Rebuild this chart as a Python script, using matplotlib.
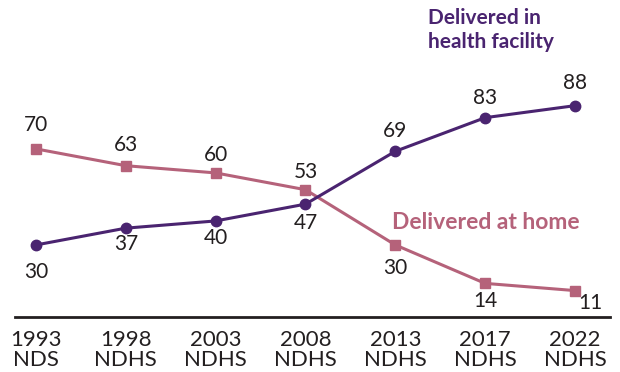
import matplotlib
matplotlib.use("Agg")
import matplotlib.pyplot as plt

plt.rcParams["font.family"] = ["Lato", "DejaVu Sans"]

# Place of delivery over survey rounds (percent)
SURVEYS    = ["1993\nNDS", "1998\nNDHS", "2003\nNDHS", "2008\nNDHS",
              "2013\nNDHS", "2017\nNDHS", "2022\nNDHS"]
FACILITY   = [30, 37, 40, 47, 69, 83, 88]
HOME       = [70, 63, 60, 53, 30, 14, 11]

PURPLE = "#4a2470"
PINK   = "#b5627a"
TEXT   = "#231f20"

# label offsets in pixels (negative dy = below the marker)
FAC_OFFSETS  = [(0, -27), (0, -16), (0, -17), (0, -19), (0, 20), (0, 20), (0, 23)]
HOME_OFFSETS = [(0, 24), (0, 21), (0, 18), (0, 18), (0, -23), (0, -18), (15, -12)]

fig = plt.figure(figsize=(6.2, 3.72), dpi=100)
ax = fig.add_axes([15 / 620, 55 / 372, 595 / 620, 317 / 372])

x = list(range(len(SURVEYS)))
ax.plot(x, HOME, color=PINK, marker="s", markersize=7, linewidth=2.2, zorder=2)
ax.plot(x, FACILITY, color=PURPLE, marker="o", markersize=7.5, linewidth=2.2, zorder=3)

for xi, v, (dx, dy) in zip(x, FACILITY, FAC_OFFSETS):
    ax.annotate(str(v), (xi, v), xytext=(dx, dy), textcoords="offset pixels",
                ha="center", va="center", fontsize=15, color=TEXT)
for xi, v, (dx, dy) in zip(x, HOME, HOME_OFFSETS):
    ax.annotate(str(v), (xi, v), xytext=(dx, dy), textcoords="offset pixels",
                ha="center", va="center", fontsize=15, color=TEXT)

ax.text(4.36, 119.5, "Delivered in\nhealth facility", color=PURPLE, fontsize=15,
        fontweight="bold", ha="left", va="center", linespacing=1.3)
ax.text(3.96, 39.5, "Delivered at home", color=PINK, fontsize=16.5,
        fontweight="bold", ha="left", va="center")

ax.set_xlim(-0.234, 6.39)
ax.set_ylim(0, 132)
ax.set_xticks(x)
ax.set_xticklabels(SURVEYS, fontsize=16, color=TEXT, linespacing=1.0)
ax.tick_params(axis="x", length=0, pad=9)
ax.set_yticks([])
for side in ["top", "right", "left"]:
    ax.spines[side].set_visible(False)
ax.spines["bottom"].set_linewidth(2)
ax.spines["bottom"].set_color(TEXT)

fig.savefig("out.png", dpi=100)
